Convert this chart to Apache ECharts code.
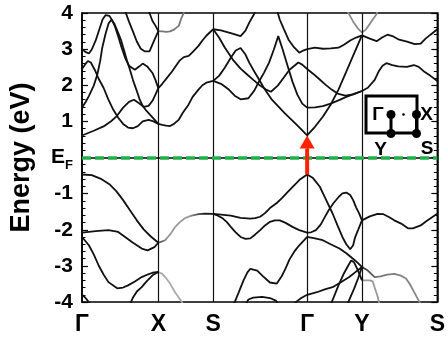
<!DOCTYPE html>
<html>
<head>
<meta charset="utf-8">
<script src="https://cdn.jsdelivr.net/npm/echarts@6/dist/echarts.min.js"></script>
<style>
  html, body { margin: 0; padding: 0; background: #fff; }
  #chart { width: 448px; height: 337px; }
</style>
</head>
<body>
<div id="chart"></div>
<script>
// k-path (arbitrary distance units) and high-symmetry labels
const kTicks = [0, 78, 134, 230, 286, 363];
const kLabels = ['Γ', 'X', 'S', 'Γ', 'Y', 'S'];
const eTicks = [-4, -3, -2, -1, 0, 1, 2, 3, 4];

// direct gap at Γ
const gapK = 230;
const gammaVBM = -0.47;
const gammaCBM = 0.61;

// ---- Γ–X ----
const gx_c1 = [[0,0.61],[12,0.74],[22,0.86],[30,1.01],[35,1.13],[42,1.38],[48,1.54],[53,1.60],[58,1.51],[63,1.40],[68,1.43],[72,1.57],[75,1.74],[78,1.92]];
const gx_c2 = [[0,2.45],[3,2.57],[6,2.67],[9,2.63],[13,2.43],[17,2.18],[22,1.93],[27,1.60],[32,1.32],[37,1.10],[42,0.93],[47,0.83],[52,0.81],[57,0.87],[62,1.0],[68,1.04],[73,1.0],[78,0.93]];
const gx_c3 = [[0,1.38],[4,1.55],[7,1.70],[12,1.99],[15.7,2.30],[18.5,2.66],[20.7,3.04],[24,3.42],[27.3,3.72],[30,3.81],[33,3.71],[36,3.51],[40,3.24],[43,2.96],[46,2.68],[49,2.43],[52,2.15],[55.5,1.88],[59,1.60],[62,1.43],[65,1.32],[72,1.11],[78,0.93]];
const gx_c4 = [[0,3.0],[3,2.93],[7,2.88],[10,2.99],[14,3.24],[18,3.57],[21,3.82],[24,3.94],[28,3.92],[31,3.79],[34,3.60],[37,3.35],[40.5,3.04],[44,2.76],[48,2.54],[54,2.43],[58,2.51],[62,2.60],[67,2.51],[72,2.34],[75,2.15],[78,1.92]];
const gx_c5 = [[41,4.26],[44,4.06],[48,3.76],[52,3.49],[56,3.21],[60,3.01],[64,2.94],[69,2.94],[72,3.13],[75,3.32],[78,3.5]];
const gx_c6 = [[66,4.24],[69,4.0],[72,3.78],[75,3.65],[78,3.5]];
const gx_v1 = [[0,-0.47],[10,-0.49],[20,-0.60],[28,-0.74],[35,-0.93],[42,-1.18],[49,-1.46],[56,-1.74],[63,-1.99],[70,-2.18],[78,-2.36]];
const gx_v2 = [[0,-2.08],[14,-2.04],[27,-2.01],[37,-2.06],[43,-2.18],[51,-2.34],[61,-2.52],[67,-2.57],[74,-2.48],[78,-2.36]];
const gx_v3 = [[0,-2.2],[7,-2.43],[12,-2.68],[17,-2.99],[22,-3.24],[27,-3.45],[36,-3.62],[42,-3.60],[47,-3.54],[54,-3.43],[61,-3.31],[67,-3.24],[72,-3.19],[78,-3.17]];
const gx_v4 = [[0,-3.80],[3,-3.87],[6,-3.97],[8,-4.07]];
const gx_v5 = [[49,-4.07],[52,-3.88],[56,-3.71],[61,-3.59],[66,-3.43],[72,-3.26],[78,-3.17]];

// ---- X–S ----
const xs_c1 = [[78,0.93],[82,0.90],[86,0.88],[90,0.87],[94,0.93],[99,1.05],[103,1.24],[109,1.47],[113,1.68],[119,1.88],[123,2.0],[127,2.07],[134,2.12]];
const xs_c2 = [[78,1.92],[82,2.04],[87,2.21],[92,2.38],[96,2.54],[100,2.69],[104,2.78],[109,2.81],[113,2.92],[119,3.09],[123,3.24],[127,3.37],[134,3.55]];
const xs_c3 = [[78,3.5],[82,3.49],[86,3.48],[90,3.49],[94,3.54],[99,3.65],[101,3.82],[104,4.01],[105,4.15]];
const xs_v1 = [[78,-2.36],[82,-2.32],[85,-2.29],[90,-2.13],[95,-1.93],[100,-1.79],[105,-1.68],[112,-1.61],[119,-1.57],[126,-1.555],[134,-1.56]];
const xs_v2 = [[78,-3.17],[82,-3.22],[85,-3.31],[90,-3.49],[95,-3.73],[99,-3.88],[102,-4.0],[104,-4.1]];

// ---- S–Γ ----
const sg_c1 = [[134,3.55],[142,3.52],[152,3.44],[162,3.36],[167,3.51],[171,3.74],[175,3.93],[179,4.15]];
const sg_c2 = [[134,3.55],[140,3.32],[146,3.04],[154,2.71],[162,2.46],[169,2.29],[175,2.15],[182,1.99],[188,1.88],[193,1.82],[200,1.99],[206,2.21],[212,2.43],[221,2.63],[225,2.57],[230,2.45]];
const sg_c3 = [[134,2.12],[140,2.26],[146,2.49],[152,2.76],[157,2.96],[162,3.03],[167,2.85],[171,2.62],[176,2.38],[181,2.15],[186,1.92],[194,1.60],[207,1.23],[221,0.86],[230,0.61]];
const sg_c4 = [[134,2.12],[142,2.04],[150,1.88],[156,1.71],[162,1.61],[170,1.64],[176,1.85],[181,2.11],[186,2.35],[191,2.62],[196,2.99],[200.5,3.36],[205,2.99],[210,2.54],[215,2.10],[220,1.74],[225,1.49],[230,1.38]];
const sg_c5 = [[198,4.24],[200,4.01],[202,3.82],[206,3.57],[211,3.26],[216,3.07],[222,2.90],[226,2.96],[230,3.0]];
const sg_v1 = [[134,-1.56],[142,-1.58],[152,-1.61],[162,-1.67],[172,-1.69],[177,-1.68],[182,-1.64],[187,-1.54],[192,-1.40],[199,-1.26],[204,-1.13],[210,-0.96],[216,-0.79],[223,-0.60],[230,-0.47]];
const sg_v2 = [[134,-1.56],[139,-1.61],[144,-1.69],[148,-1.79],[152,-1.92],[157,-2.07],[162,-2.2],[167,-2.25],[172,-2.24],[177,-2.13],[182,-2.01],[187,-1.88],[192,-1.78],[197,-1.74],[202,-1.74],[208,-1.81],[215,-1.92],[222,-2.01],[230,-2.08]];
const sg_v3 = [[155,-4.07],[160,-3.74],[165,-3.40],[169,-3.18],[172,-3.08],[179,-3.13],[185,-3.29],[192,-3.46],[199,-3.49],[204,-3.29],[208,-3.07],[212,-2.82],[217,-2.60],[222,-2.43],[227,-2.29],[230,-2.2]];
const sg_v4 = [[167,-4.07],[170,-3.93],[175,-3.88],[184,-3.86],[192,-3.89],[198,-3.96],[201,-4.07]];
const sg_v5 = [[216,-4.07],[219,-3.99],[224,-3.89],[230,-3.80]];

// ---- Γ–Y ----
const gy_c1 = [[230,0.61],[238,0.85],[246,1.13],[254,1.46],[262,1.88],[270,2.38],[278,2.88],[286,3.38]];
const gy_c2 = [[230,1.38],[238,1.39],[246,1.42],[254,1.49],[262,1.58],[270,1.68],[278,1.76],[286,1.84]];
const gy_c3 = [[230,2.45],[236,2.32],[242,2.18],[249,2.01],[255,1.88],[262,1.76],[269,1.71],[277,1.75],[286,1.84]];
const gy_c4 = [[230,3.0],[238,3.04],[246,3.01],[254,3.02],[262,3.04],[268,3.13],[274,3.24],[280,3.32],[286,3.38]];
const gy_c5 = [[268,4.21],[272,4.01],[277,3.76],[282,3.57],[286,3.46],[290,3.54],[295,3.74],[300,3.93],[303,4.10]];
const gy_v1 = [[230,-0.47],[236,-0.57],[243,-0.81],[249,-1.15],[256,-1.55],[261,-1.88],[266,-2.2],[270,-2.40],[274,-2.54],[277,-2.43],[279,-2.21],[282,-2.01],[286,-1.74]];
const gy_v2 = [[230,-2.08],[234,-2.07],[239,-2.01],[244,-1.85],[248,-1.65],[252,-1.46],[257,-1.26],[262,-1.10],[266,-0.99],[270,-0.97],[274,-1.04],[277,-1.18],[280,-1.38],[283,-1.54],[286,-1.74]];
const gy_v3 = [[230,-2.2],[238,-2.24],[246,-2.29],[254,-2.40],[263,-2.52],[270,-2.65],[279,-2.85],[286,-3.03]];
const gy_v4 = [[230,-3.80],[240,-3.73],[248,-3.65],[256,-3.59],[264,-3.46],[273,-3.31],[279,-3.18],[286,-3.03]];
const gy_v5 = [[254,-4.07],[257,-3.88],[262,-3.54],[267,-3.24],[272,-2.99],[275,-2.85],[278,-2.90],[282,-3.13],[286,-3.40]];
const gy_v6 = [[271,-4.07],[274,-3.88],[278,-3.63],[282,-3.35],[286,-3.03]];

// ---- Y–S ----
const ys_c1 = [[286,3.38],[294,3.29],[301,3.22],[307,3.33],[312,3.40],[318,3.35],[324,3.26],[332,3.21],[340,3.14],[346,3.15],[351,3.29],[356,3.40],[363,3.55]];
const ys_c2 = [[286,1.84],[292,1.93],[299,2.15],[303,2.38],[307,2.54],[311,2.61],[317,2.56],[323,2.52],[332,2.51],[339,2.56],[344,2.51],[349,2.39],[356,2.26],[363,2.12]];
const ys_v1 = [[286,-1.74],[294,-1.63],[302,-1.56],[308,-1.57],[313,-1.64],[319,-1.74],[326,-1.83],[333,-1.96],[338,-1.96],[346,-1.88],[352,-1.76],[358,-1.65],[363,-1.56]];
const ys_v2 = [[286,-3.03],[292,-3.13],[299,-3.31],[305,-3.29],[312,-3.24],[319,-3.22],[325,-3.26],[331,-3.35],[335,-3.51],[340,-3.76],[344,-3.96],[346,-4.07]];
const ys_v3 = [[286,-3.40],[290,-3.40],[294,-3.40],[297,-3.43],[299,-3.60],[302,-3.85],[304,-4.07]];

const FONT = '"Liberation Sans", Arial, Helvetica, sans-serif';
const INK = '#111';

function grad(stops) {
  return { type: 'linear', x: 0, y: 0, x2: 1, y2: 0,
    colorStops: stops.map(([o, c]) => ({ offset: o, color: c })) };
}

const bandList = [
  [gx_c1], [gx_c2], [gx_c3], [gx_c4], [gx_c5], [gx_c6],
  [gx_v1], [gx_v2], [gx_v3], [gx_v4], [gx_v5],
  [xs_c1], [xs_c2], [xs_c3, '#777'],
  [xs_v1, grad([[0, '#333'], [0.2, '#999'], [0.55, '#999'], [0.8, '#222'], [1, '#111']])],
  [xs_v2, '#aaa'],
  [sg_c1], [sg_c2], [sg_c3], [sg_c4], [sg_c5],
  [sg_v1], [sg_v2], [sg_v3], [sg_v4], [sg_v5],
  [gy_c1], [gy_c2], [gy_c3], [gy_c4], [gy_c5, '#8a8a8a'],
  [gy_v1], [gy_v2], [gy_v3], [gy_v4], [gy_v5], [gy_v6],
  [ys_c1], [ys_c2], [ys_v1],
  [ys_v2, grad([[0, '#222'], [0.3, '#777'], [1, '#8a8a8a'] ])],
  [ys_v3, '#999']
];

const bandSeries = bandList.map(([data, color]) => ({
  type: 'line',
  data: data,
  symbol: 'none',
  smooth: false,
  silent: true,
  z: 3,
  lineStyle: { color: color || INK, width: 1.8 }
}));

const guideSeries = {
  type: 'line',
  data: [],
  z: 2,
  silent: true,
  markLine: {
    symbol: 'none',
    silent: true,
    animation: false,
    label: { show: false },
    lineStyle: { color: '#111', width: 1.2, type: 'solid' },
    data: kTicks.slice(1, -1).map(k => ({ xAxis: k }))
  }
};

const fermiSeries = {
  type: 'line',
  data: [],
  z: 4,
  silent: true,
  markLine: {
    symbol: 'none',
    silent: true,
    animation: false,
    label: { show: false },
    lineStyle: { color: '#1fb04a', width: 3.5, type: [9, 4] },
    data: [{ yAxis: 0 }]
  }
};

// vertical arrow across the gap at Γ
const arrowSeries = {
  type: 'custom',
  z: 6,
  silent: true,
  clip: false,
  data: [[gapK, gammaVBM, gammaCBM]],
  encode: { x: 0, y: [1, 2] },
  renderItem: function (params, api) {
    const p0 = api.coord([api.value(0), api.value(1)]);
    const p1 = api.coord([api.value(0), api.value(2)]);
    const h = 13, w = 7.5;
    return {
      type: 'group',
      children: [
        { type: 'line', shape: { x1: p0[0], y1: p0[1], x2: p1[0], y2: p1[1] + h },
          style: { stroke: '#ff2200', lineWidth: 4 } },
        { type: 'polygon', shape: { points: [[p1[0], p1[1]], [p1[0] - w, p1[1] + h], [p1[0] + w, p1[1] + h]] },
          style: { fill: '#ff2200' } }
      ]
    };
  }
};

const yAxisBase = {
  type: 'value',
  min: -4,
  max: 4,
  interval: 1,
  splitLine: { show: false },
  axisLine: { show: true, lineStyle: { color: '#000', width: 1.5 } },
  axisTick: { show: true, inside: true, length: 6, lineStyle: { color: '#000', width: 1.2 } },
  minorTick: { show: true, splitNumber: 5, length: 3.5, lineStyle: { color: '#000', width: 1 } }
};

// Brillouin-zone sketch
const bzText = (t, x, y) => ({
  type: 'text', x: x, y: y, z: 10,
  style: { text: t, fontSize: 19, fontWeight: 'bold', fontFamily: FONT, fill: '#000',
    align: 'center', verticalAlign: 'middle' }
});
const bzDot = (x, y, r) => ({ type: 'circle', z: 10, shape: { cx: x, cy: y, r: r }, style: { fill: '#000' } });
const bzLine = (x1, y1, x2, y2) => ({ type: 'line', z: 10, shape: { x1, y1, x2, y2 }, style: { stroke: '#000', lineWidth: 3 } });

const chart = echarts.init(document.getElementById('chart'), null, { renderer: 'canvas' });
chart.setOption({
  animation: false,
  backgroundColor: '#fff',
  grid: { left: 78, right: 7, top: 13, bottom: 35, show: true, borderColor: '#000', borderWidth: 1.5, containLabel: false },
  xAxis: {
    type: 'value',
    min: kTicks[0],
    max: kTicks[kTicks.length - 1],
    splitLine: { show: false },
    axisLine: { show: true, lineStyle: { color: '#000', width: 1.5 } },
    axisTick: { show: false },
    axisLabel: {
      customValues: kTicks,
      formatter: v => kLabels[kTicks.indexOf(v)] || '',
      fontSize: 23, fontWeight: 'bold', fontFamily: FONT, color: '#000', margin: 11
    }
  },
  yAxis: [
    Object.assign({}, yAxisBase, {
      position: 'left',
      name: 'Energy (eV)',
      nameLocation: 'middle',
      nameGap: 47,
      nameTextStyle: { fontSize: 27, fontWeight: 'bold', fontFamily: FONT, color: '#000' },
      axisLabel: {
        customValues: eTicks,
        formatter: v => (v === 0 ? '{e|E}{f|F}' : String(v)),
        fontSize: 21, fontWeight: 'bold', fontFamily: FONT, color: '#000', margin: 9,
        rich: {
          e: { fontSize: 21, fontWeight: 'bold', fontFamily: FONT, color: '#000' },
          f: { fontSize: 13, fontWeight: 'bold', fontFamily: FONT, color: '#000', padding: [16, 0, 0, 0] }
        }
      }
    }),
    Object.assign({}, yAxisBase, { position: 'right', axisLabel: { show: false } })
  ],
  graphic: [
    { type: 'rect', z: 10, shape: { x: 366, y: 96, width: 51, height: 37 },
      style: { fill: 'rgba(0,0,0,0)', stroke: '#000', lineWidth: 3 } },
    bzLine(391, 114.5, 391, 133.5),
    bzLine(416.5, 114.5, 416.5, 133.5),
    bzDot(391, 114.5, 4.5), bzDot(416.5, 114.5, 4.5),
    bzDot(391, 133.5, 4.5), bzDot(416.5, 133.5, 4.5),
    bzDot(403.5, 114.5, 1.3),
    bzText('Γ', 378, 114.5), bzText('X', 426.5, 115),
    bzText('Y', 380.5, 149.5), bzText('S', 427, 148.5)
  ],
  series: [guideSeries].concat(bandSeries, [fermiSeries, arrowSeries])
});
</script>
</body>
</html>
